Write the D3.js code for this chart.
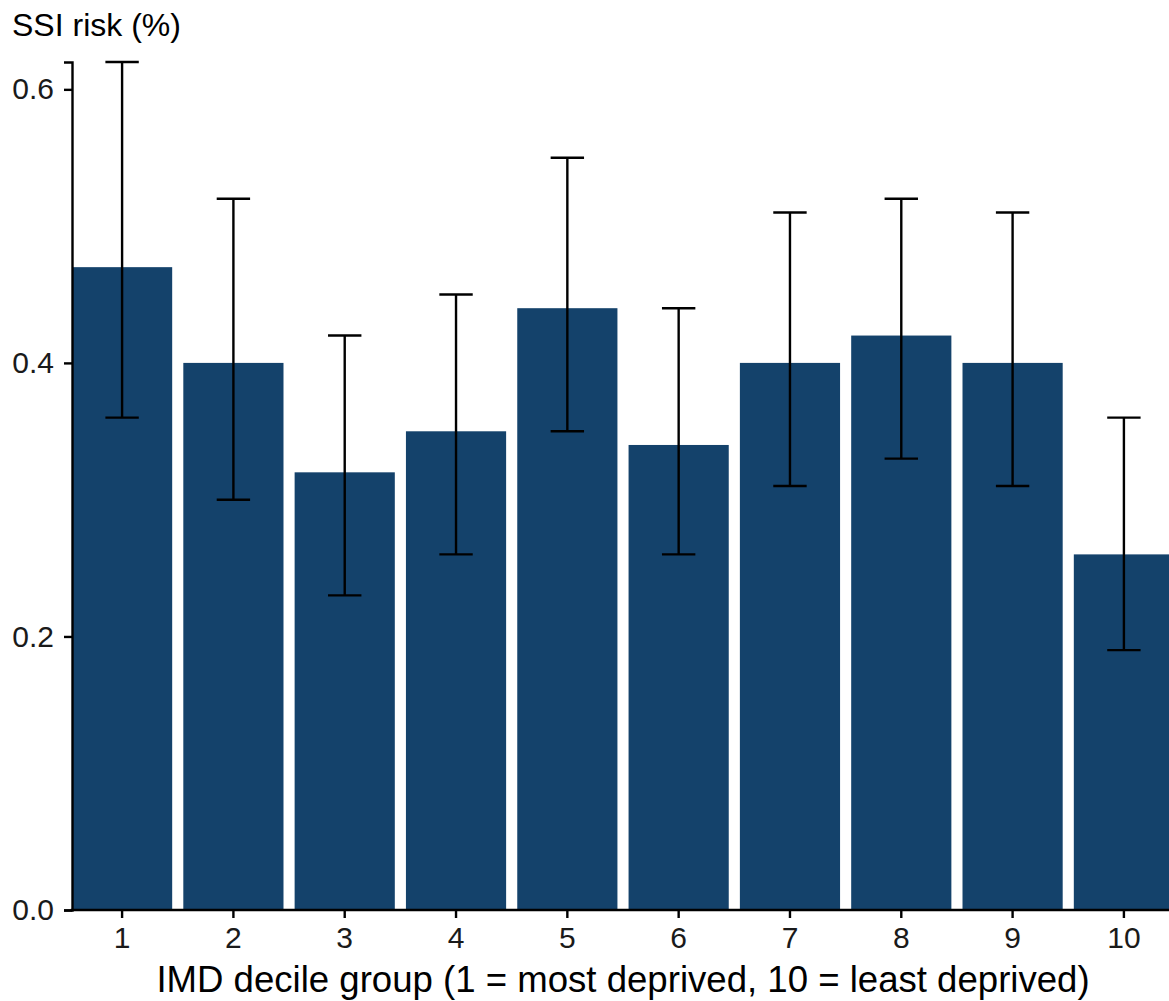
<!DOCTYPE html>
<html>
<head>
<meta charset="utf-8">
<script src="https://cdn.jsdelivr.net/npm/d3@7"></script>
<style>
  html, body { margin: 0; padding: 0; background: #fff; }
  svg { display: block; font-family: "Liberation Sans", Arial, sans-serif; }
</style>
</head>
<body>
<svg id="chart" width="1169" height="1001"></svg>
<script>
// IMD decile groups and SSI risk estimates with confidence intervals
const deciles = ["1", "2", "3", "4", "5", "6", "7", "8", "9", "10"];
const risk  = [0.47, 0.40, 0.32, 0.35, 0.44, 0.34, 0.40, 0.42, 0.40, 0.26];
const lower = [0.36, 0.30, 0.23, 0.26, 0.35, 0.26, 0.31, 0.33, 0.31, 0.19];
const upper = [0.62, 0.52, 0.42, 0.45, 0.55, 0.44, 0.51, 0.52, 0.51, 0.36];
const yTicks = [0.0, 0.2, 0.4, 0.6];

const svg = d3.select("#chart");
const plotLeft = 72, plotRight = 1174, plotTop = 62, plotBottom = 910;

const x = d3.scaleBand().domain(deciles).range([plotLeft, plotRight]).paddingInner(0.1).paddingOuter(0);
const y = d3.scaleLinear().domain([0, 0.62]).range([plotBottom, plotTop]);

const rows = deciles.map((d, i) => ({ d, v: risk[i], lo: lower[i], hi: upper[i] }));

// bars
svg.append("g").selectAll("rect").data(rows).join("rect")
  .attr("x", r => x(r.d)).attr("width", x.bandwidth())
  .attr("y", r => y(r.v)).attr("height", r => y(0) - y(r.v))
  .attr("fill", "#14426b");

// error bars
const capHalf = x.step() * 0.15;
const eb = svg.append("g").attr("stroke", "#000").attr("stroke-width", 2.4).attr("fill", "none");
rows.forEach(r => {
  const cx = x(r.d) + x.bandwidth() / 2;
  eb.append("line").attr("x1", cx).attr("x2", cx).attr("y1", y(r.lo)).attr("y2", y(r.hi));
  eb.append("line").attr("x1", cx - capHalf).attr("x2", cx + capHalf).attr("y1", y(r.lo)).attr("y2", y(r.lo));
  eb.append("line").attr("x1", cx - capHalf).attr("x2", cx + capHalf).attr("y1", y(r.hi)).attr("y2", y(r.hi));
});

// y axis
const yAxis = svg.append("g").attr("transform", `translate(${plotLeft},0)`)
  .call(d3.axisLeft(y).tickValues(yTicks).tickFormat(d3.format(".1f")).tickSizeOuter(0).tickSize(8).tickPadding(10));
yAxis.select(".domain").attr("stroke-width", 2.4);
yAxis.selectAll(".tick line").attr("stroke-width", 2.4);
yAxis.selectAll(".tick text").attr("font-size", 30).attr("fill", "#1a1a1a");

// x axis
const xAxis = svg.append("g").attr("transform", `translate(0,${plotBottom})`)
  .call(d3.axisBottom(x).tickSizeOuter(0).tickSize(8).tickPadding(9));
xAxis.select(".domain").attr("stroke-width", 2.4).attr("d", `M${plotLeft - 1.2},0H${plotRight}`);
xAxis.selectAll(".tick line").attr("stroke-width", 2.4);
xAxis.selectAll(".tick text").attr("font-size", 30).attr("fill", "#1a1a1a");

// axis titles
svg.append("text").attr("x", 12).attr("y", 36).attr("font-size", 32).attr("fill", "#000")
  .text("SSI risk (%)");
svg.append("text").attr("x", (plotLeft + plotRight) / 2).attr("y", 992).attr("text-anchor", "middle")
  .attr("font-size", 36.6).attr("fill", "#000")
  .text("IMD decile group (1 = most deprived, 10 = least deprived)");
</script>
</body>
</html>
